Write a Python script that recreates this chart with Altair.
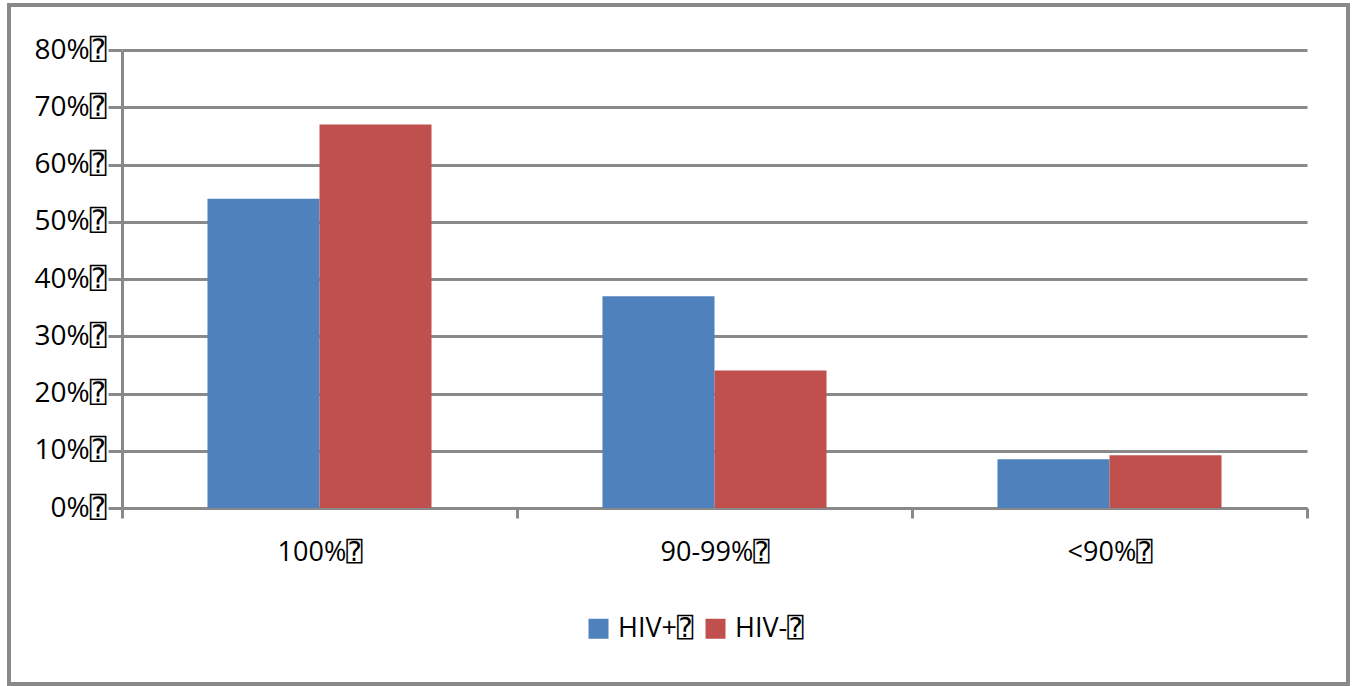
import altair as alt
import pandas as pd

# Adherence categories and share of patients in each group
categories = ["100%⍰", "90-99%⍰", "<90%⍰"]
groups = ["HIV+⍰", "HIV-⍰"]
hiv_pos = [0.54, 0.37, 0.085]
hiv_neg = [0.67, 0.24, 0.092]
y_ticks = [0.0, 0.1, 0.2, 0.3, 0.4, 0.5, 0.6, 0.7, 0.8]

rows = []
for cat, p, n in zip(categories, hiv_pos, hiv_neg):
    rows.append({"category": cat, "group": groups[0], "share": p})
    rows.append({"category": cat, "group": groups[1], "share": n})
df = pd.DataFrame(rows)

FONT = "Open Sans, DejaVu Sans Mono, DejaVu Sans"
GRAY = "#898989"

bars = alt.Chart(df).mark_bar().encode(
    x=alt.X(
        "category:N",
        sort=categories,
        scale=alt.Scale(paddingInner=0, paddingOuter=0),
        axis=alt.Axis(
            title=None,
            labelAngle=0,
            grid=False,
            tickBand="extent",
            tickSize=10,
            tickWidth=3,
            tickColor=GRAY,
            domainColor=GRAY,
            domainWidth=3,
            labelFontSize=27,
            labelPadding=21,
        ),
    ),
    xOffset=alt.XOffset(
        "group:N", sort=groups, scale=alt.Scale(paddingInner=0, paddingOuter=0.763)
    ),
    y=alt.Y(
        "share:Q",
        scale=alt.Scale(domain=[0, 0.8], nice=False),
        axis=alt.Axis(
            title=None,
            values=y_ticks,
            labelExpr="format(datum.value, '.0%') + '⍰'",
            grid=True,
            gridColor=GRAY,
            gridWidth=3,
            tickSize=14,
            tickWidth=3,
            tickColor=GRAY,
            domainColor=GRAY,
            domainWidth=3,
            labelFontSize=28,
            labelPadding=2,
        ),
    ),
    color=alt.Color(
        "group:N",
        sort=groups,
        scale=alt.Scale(domain=groups, range=["#4F81BD", "#C0504D"]),
        legend=alt.Legend(
            title=None,
            orient="none",
            legendX=463,
            legendY=565,
            direction="horizontal",
            symbolType="square",
            symbolSize=400,
            symbolStrokeWidth=0,
            symbolOpacity=1,
            labelFontSize=27,
            labelOffset=6,
            columnPadding=8,
        ),
    ),
)

# Outer frame around the whole figure
frame = alt.Chart(pd.DataFrame({"k": [0]})).mark_rect(
    fill="transparent", stroke=GRAY, strokeWidth=4
).encode(
    x=alt.value(-113),
    x2=alt.value(1226),
    y=alt.value(-45),
    y2=alt.value(634),
)

chart = alt.layer(bars, frame).properties(
    width=1185,
    height=458,
    autosize=alt.AutoSizeParams(type="none"),
    padding={"left": 122, "top": 50, "right": 48, "bottom": 178},
    background="white",
).configure(
    font=FONT
).configure_view(
    stroke="transparent", strokeWidth=0
).configure_axis(
    labelColor="#000000", labelFont=FONT
).configure_legend(
    labelColor="#000000", labelFont=FONT
)

chart.save("out.html", embed_options={"renderer": "svg", "actions": False})
